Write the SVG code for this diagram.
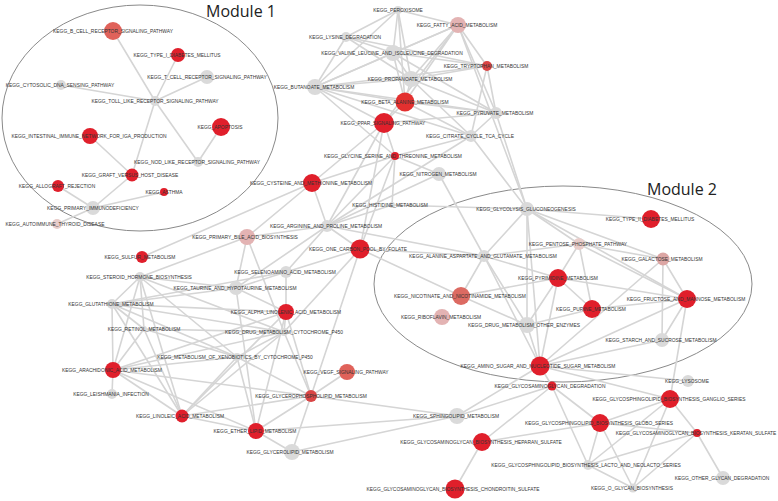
<svg xmlns="http://www.w3.org/2000/svg" width="778" height="501" viewBox="0 0 778 501">
<style>
.e{stroke:#d5d5d5;stroke-width:1.6;fill:none;stroke-linecap:round}
.m{fill:none;stroke:#8a8a8a;stroke-width:1}
.t{font-family:"Open Sans","Liberation Sans",sans-serif;font-size:16px;fill:#222}
.l{font-family:"Liberation Sans",Arial,sans-serif;font-size:4.9px;fill:#333;text-anchor:middle}
.g{fill:#dadada}.r{fill:#e01f2b}.r2{fill:#e3302f}.m1{fill:#e0625a}.m2{fill:#dc6a62}.m3{fill:#d94545}.p1{fill:#e3b3b3}.p2{fill:#e8cdca}.p3{fill:#dca6a4}
</style>
<rect width="778" height="501" fill="#fff"/>
<ellipse class="m" cx="140" cy="118" rx="138" ry="113"/>
<ellipse class="m" cx="563" cy="284" rx="189" ry="98"/>
<text class="t" x="206" y="17">Module 1</text>
<text class="t" x="647" y="195">Module 2</text>
<g id="edges" class="e">
<line x1="113" y1="31" x2="155" y2="101"/><line x1="178" y1="55" x2="155" y2="101"/><line x1="207" y1="77" x2="155" y2="101"/><line x1="61" y1="85" x2="155" y2="101"/><line x1="155" y1="101" x2="198" y2="162"/><line x1="155" y1="101" x2="132" y2="175"/><line x1="221" y1="127" x2="198" y2="162"/><line x1="90" y1="136" x2="132" y2="175"/><line x1="132" y1="175" x2="93" y2="208"/><line x1="58" y1="186" x2="93" y2="208"/><line x1="164" y1="192" x2="93" y2="208"/><line x1="57" y1="224" x2="93" y2="208"/>
<line x1="398" y1="10" x2="346" y2="37"/><line x1="398" y1="10" x2="315" y2="87"/><line x1="398" y1="10" x2="393" y2="53"/><line x1="398" y1="10" x2="411" y2="79"/><line x1="398" y1="10" x2="405" y2="102"/><line x1="398" y1="10" x2="458" y2="25"/>
<line x1="458" y1="25" x2="393" y2="53"/><line x1="458" y1="25" x2="411" y2="79"/><line x1="458" y1="25" x2="405" y2="102"/><line x1="458" y1="25" x2="315" y2="87"/><line x1="458" y1="25" x2="384" y2="123"/><line x1="458" y1="25" x2="496" y2="113"/><line x1="458" y1="25" x2="487" y2="66"/><line x1="458" y1="25" x2="527" y2="209"/>
<line x1="346" y1="37" x2="393" y2="53"/><line x1="346" y1="37" x2="315" y2="87"/><line x1="346" y1="37" x2="411" y2="79"/><line x1="346" y1="37" x2="487" y2="66"/>
<line x1="393" y1="53" x2="315" y2="87"/><line x1="393" y1="53" x2="411" y2="79"/><line x1="393" y1="53" x2="405" y2="102"/><line x1="393" y1="53" x2="487" y2="66"/><line x1="393" y1="53" x2="496" y2="113"/>
<line x1="315" y1="87" x2="411" y2="79"/><line x1="315" y1="87" x2="405" y2="102"/><line x1="315" y1="87" x2="384" y2="123"/><line x1="315" y1="87" x2="487" y2="66"/><line x1="315" y1="87" x2="496" y2="113"/><line x1="315" y1="87" x2="471" y2="136"/><line x1="315" y1="87" x2="395" y2="156"/>
<line x1="411" y1="79" x2="405" y2="102"/><line x1="411" y1="79" x2="496" y2="113"/><line x1="411" y1="79" x2="487" y2="66"/><line x1="411" y1="79" x2="471" y2="136"/>
<line x1="405" y1="102" x2="384" y2="123"/><line x1="405" y1="102" x2="496" y2="113"/><line x1="405" y1="102" x2="471" y2="136"/>
<line x1="487" y1="66" x2="496" y2="113"/><line x1="487" y1="66" x2="471" y2="136"/><line x1="496" y1="113" x2="471" y2="136"/><line x1="496" y1="113" x2="527" y2="209"/><line x1="496" y1="113" x2="384" y2="123"/>
<line x1="471" y1="136" x2="395" y2="156"/><line x1="471" y1="136" x2="327" y2="226"/><line x1="471" y1="136" x2="527" y2="209"/>
<line x1="384" y1="123" x2="312" y2="183"/><line x1="384" y1="123" x2="327" y2="226"/><line x1="384" y1="123" x2="360" y2="249"/><line x1="384" y1="123" x2="395" y2="156"/>
<line x1="395" y1="156" x2="312" y2="183"/><line x1="395" y1="156" x2="439" y2="174"/><line x1="395" y1="156" x2="327" y2="226"/><line x1="395" y1="156" x2="360" y2="249"/><line x1="395" y1="156" x2="392" y2="205"/>
<line x1="439" y1="174" x2="327" y2="226"/><line x1="439" y1="174" x2="484" y2="256"/>
<line x1="312" y1="183" x2="327" y2="226"/><line x1="312" y1="183" x2="247" y2="237"/><line x1="312" y1="183" x2="142" y2="257"/>
<line x1="327" y1="226" x2="392" y2="205"/><line x1="327" y1="226" x2="484" y2="256"/><line x1="327" y1="226" x2="286" y2="272"/><line x1="327" y1="226" x2="247" y2="237"/><line x1="327" y1="226" x2="360" y2="249"/><line x1="327" y1="226" x2="236" y2="288"/>
<line x1="392" y1="205" x2="527" y2="209"/>
<line x1="360" y1="249" x2="484" y2="256"/><line x1="360" y1="249" x2="461" y2="296"/><line x1="360" y1="249" x2="286" y2="272"/><line x1="360" y1="249" x2="311" y2="396"/><line x1="360" y1="249" x2="284" y2="332"/>
<line x1="140" y1="277" x2="247" y2="237"/><line x1="140" y1="277" x2="112" y2="304"/><line x1="140" y1="277" x2="144" y2="329"/><line x1="140" y1="277" x2="113" y2="370"/><line x1="140" y1="277" x2="182" y2="416"/><line x1="140" y1="277" x2="237" y2="357"/><line x1="140" y1="277" x2="284" y2="332"/><line x1="140" y1="277" x2="236" y2="288"/>
<line x1="112" y1="304" x2="286" y2="272"/><line x1="112" y1="304" x2="236" y2="288"/><line x1="112" y1="304" x2="286" y2="312"/><line x1="112" y1="304" x2="237" y2="357"/><line x1="112" y1="304" x2="284" y2="332"/><line x1="112" y1="304" x2="144" y2="329"/><line x1="112" y1="304" x2="113" y2="370"/><line x1="112" y1="304" x2="182" y2="416"/>
<line x1="144" y1="329" x2="284" y2="332"/><line x1="144" y1="329" x2="237" y2="357"/><line x1="144" y1="329" x2="113" y2="370"/><line x1="144" y1="329" x2="182" y2="416"/>
<line x1="236" y1="288" x2="247" y2="237"/><line x1="236" y1="288" x2="286" y2="272"/><line x1="236" y1="288" x2="286" y2="312"/><line x1="236" y1="288" x2="256" y2="431"/>
<line x1="286" y1="272" x2="286" y2="312"/><line x1="247" y1="237" x2="284" y2="332"/>
<line x1="286" y1="312" x2="113" y2="370"/><line x1="286" y1="312" x2="182" y2="416"/><line x1="286" y1="312" x2="311" y2="396"/><line x1="286" y1="312" x2="284" y2="332"/><line x1="286" y1="312" x2="256" y2="431"/>
<line x1="284" y1="332" x2="237" y2="357"/><line x1="284" y1="332" x2="113" y2="370"/><line x1="284" y1="332" x2="182" y2="416"/><line x1="284" y1="332" x2="311" y2="396"/>
<line x1="237" y1="357" x2="113" y2="370"/><line x1="237" y1="357" x2="182" y2="416"/><line x1="237" y1="357" x2="311" y2="396"/><line x1="237" y1="357" x2="256" y2="431"/>
<line x1="113" y1="370" x2="112" y2="394"/><line x1="113" y1="370" x2="182" y2="416"/><line x1="113" y1="370" x2="311" y2="396"/><line x1="113" y1="370" x2="256" y2="431"/>
<line x1="182" y1="416" x2="311" y2="396"/><line x1="182" y1="416" x2="256" y2="431"/>
<line x1="256" y1="431" x2="311" y2="396"/><line x1="256" y1="431" x2="292" y2="452"/><line x1="256" y1="431" x2="457" y2="416"/>
<line x1="311" y1="396" x2="347" y2="372"/><line x1="311" y1="396" x2="292" y2="452"/><line x1="311" y1="396" x2="457" y2="416"/><line x1="292" y1="452" x2="457" y2="416"/>
<line x1="457" y1="416" x2="540" y2="366"/><line x1="457" y1="416" x2="552" y2="386"/>
<line x1="482" y1="442" x2="455" y2="489"/><line x1="482" y1="442" x2="552" y2="386"/><line x1="482" y1="442" x2="600" y2="423"/>
<line x1="484" y1="256" x2="461" y2="296"/><line x1="484" y1="256" x2="527" y2="209"/><line x1="484" y1="256" x2="558" y2="278"/><line x1="484" y1="256" x2="579" y2="244"/><line x1="484" y1="256" x2="527" y2="325"/><line x1="484" y1="256" x2="540" y2="366"/>
<line x1="461" y1="296" x2="527" y2="325"/><line x1="461" y1="296" x2="558" y2="278"/>
<line x1="527" y1="325" x2="558" y2="278"/><line x1="527" y1="325" x2="592" y2="309"/><line x1="527" y1="325" x2="527" y2="209"/><line x1="527" y1="325" x2="540" y2="366"/>
<line x1="527" y1="209" x2="579" y2="244"/><line x1="527" y1="209" x2="651" y2="219"/><line x1="527" y1="209" x2="687" y2="299"/><line x1="527" y1="209" x2="663" y2="259"/><line x1="527" y1="209" x2="540" y2="366"/>
<line x1="579" y1="244" x2="687" y2="299"/><line x1="579" y1="244" x2="558" y2="278"/><line x1="579" y1="244" x2="592" y2="309"/><line x1="579" y1="244" x2="663" y2="259"/>
<line x1="663" y1="259" x2="687" y2="299"/><line x1="663" y1="259" x2="662" y2="340"/><line x1="663" y1="259" x2="540" y2="366"/>
<line x1="558" y1="278" x2="592" y2="309"/><line x1="558" y1="278" x2="687" y2="299"/><line x1="558" y1="278" x2="540" y2="366"/>
<line x1="592" y1="309" x2="687" y2="299"/><line x1="687" y1="299" x2="540" y2="366"/><line x1="687" y1="299" x2="662" y2="340"/><line x1="662" y1="340" x2="540" y2="366"/>
<line x1="540" y1="366" x2="552" y2="386"/><line x1="540" y1="366" x2="688" y2="381"/><line x1="540" y1="366" x2="670" y2="399"/>
<line x1="552" y1="386" x2="588" y2="465"/><line x1="552" y1="386" x2="600" y2="423"/>
<line x1="670" y1="399" x2="600" y2="423"/><line x1="670" y1="399" x2="697" y2="433"/><line x1="670" y1="399" x2="588" y2="465"/><line x1="670" y1="399" x2="633" y2="488"/><line x1="670" y1="399" x2="687" y2="299"/>
<line x1="600" y1="423" x2="697" y2="433"/><line x1="600" y1="423" x2="588" y2="465"/><line x1="600" y1="423" x2="633" y2="488"/>
<line x1="697" y1="433" x2="723" y2="478"/><line x1="697" y1="433" x2="588" y2="465"/><line x1="697" y1="433" x2="633" y2="488"/><line x1="588" y1="465" x2="633" y2="488"/>
</g>
<g id="n_bcell"><circle class="m1" cx="113" cy="31" r="9"/><text class="l" x="113" y="32.7">KEGG_B_CELL_RECEPTOR_SIGNALING_PATHWAY</text></g>
<g id="n_t1d"><circle class="r" cx="178" cy="55" r="7"/><text class="l" x="177" y="56.7">KEGG_TYPE_I_DIABETES_MELLITUS</text></g>
<g id="n_tcell"><circle class="g" cx="207" cy="77" r="7"/><text class="l" x="207" y="78.7">KEGG_T_CELL_RECEPTOR_SIGNALING_PATHWAY</text></g>
<g id="n_cyto"><circle class="g" cx="61" cy="85" r="5"/><text class="l" x="60" y="86.7">KEGG_CYTOSOLIC_DNA_SENSING_PATHWAY</text></g>
<g id="n_toll"><circle class="g" cx="155" cy="101" r="5"/><text class="l" x="155" y="102.7">KEGG_TOLL_LIKE_RECEPTOR_SIGNALING_PATHWAY</text></g>
<g id="n_intest"><circle class="r" cx="90" cy="136" r="8"/><text class="l" x="89" y="137.7">KEGG_INTESTINAL_IMMUNE_NETWORK_FOR_IGA_PRODUCTION</text></g>
<g id="n_apop"><circle class="r" cx="221" cy="127" r="9"/><text class="l" x="220" y="128.7">KEGG_APOPTOSIS</text></g>
<g id="n_nod"><circle class="g" cx="198" cy="162" r="5"/><text class="l" x="197" y="163.7">KEGG_NOD_LIKE_RECEPTOR_SIGNALING_PATHWAY</text></g>
<g id="n_graft"><circle class="r" cx="132" cy="175" r="6.5"/><text class="l" x="130" y="176.7">KEGG_GRAFT_VERSUS_HOST_DISEASE</text></g>
<g id="n_allo"><circle class="r" cx="58" cy="186" r="6"/><text class="l" x="57" y="187.7">KEGG_ALLOGRAFT_REJECTION</text></g>
<g id="n_asthma"><circle class="r" cx="164" cy="192" r="4"/><text class="l" x="164" y="193.7">KEGG_ASTHMA</text></g>
<g id="n_pid"><circle class="g" cx="93" cy="208" r="7"/><text class="l" x="93" y="209.7">KEGG_PRIMARY_IMMUNODEFICIENCY</text></g>
<g id="n_auto"><circle class="p2" cx="57" cy="224" r="5"/><text class="l" x="55" y="225.7">KEGG_AUTOIMMUNE_THYROID_DISEASE</text></g>
<g id="n_perox"><circle class="g" cx="398" cy="10" r="4"/><text class="l" x="398" y="11.7">KEGG_PEROXISOME</text></g>
<g id="n_fatty"><circle class="p1" cx="458" cy="25" r="8"/><text class="l" x="457" y="26.7">KEGG_FATTY_ACID_METABOLISM</text></g>
<g id="n_lys"><circle class="g" cx="346" cy="37" r="5"/><text class="l" x="345" y="38.7">KEGG_LYSINE_DEGRADATION</text></g>
<g id="n_val"><circle class="g" cx="393" cy="53" r="8"/><text class="l" x="392" y="54.7">KEGG_VALINE_LEUCINE_AND_ISOLEUCINE_DEGRADATION</text></g>
<g id="n_trp"><circle class="m3" cx="487" cy="66" r="5"/><text class="l" x="486" y="67.7">KEGG_TRYPTOPHAN_METABOLISM</text></g>
<g id="n_prop"><circle class="g" cx="411" cy="79" r="8"/><text class="l" x="410" y="80.7">KEGG_PROPANOATE_METABOLISM</text></g>
<g id="n_but"><circle class="g" cx="315" cy="87" r="8"/><text class="l" x="314" y="88.7">KEGG_BUTANOATE_METABOLISM</text></g>
<g id="n_beta"><circle class="r2" cx="405" cy="102" r="9.5"/><text class="l" x="405" y="103.7">KEGG_BETA_ALANINE_METABOLISM</text></g>
<g id="n_pyr"><circle class="g" cx="496" cy="113" r="6"/><text class="l" x="495" y="114.7">KEGG_PYRUVATE_METABOLISM</text></g>
<g id="n_ppar"><circle class="r" cx="384" cy="123" r="10"/><text class="l" x="383" y="124.7">KEGG_PPAR_SIGNALING_PATHWAY</text></g>
<g id="n_cit"><circle class="g" cx="471" cy="136" r="6"/><text class="l" x="470" y="137.7">KEGG_CITRATE_CYCLE_TCA_CYCLE</text></g>
<g id="n_gly"><circle class="r" cx="395" cy="156" r="4"/><text class="l" x="393" y="157.7">KEGG_GLYCINE_SERINE_AND_THREONINE_METABOLISM</text></g>
<g id="n_nitro"><circle class="g" cx="439" cy="174" r="7"/><text class="l" x="438" y="175.7">KEGG_NITROGEN_METABOLISM</text></g>
<g id="n_cys"><circle class="r" cx="312" cy="183" r="9"/><text class="l" x="311" y="184.7">KEGG_CYSTEINE_AND_METHIONINE_METABOLISM</text></g>
<g id="n_his"><circle class="g" cx="392" cy="205" r="3"/><text class="l" x="390" y="206.7">KEGG_HISTIDINE_METABOLISM</text></g>
<g id="n_arg"><circle class="g" cx="327" cy="226" r="6"/><text class="l" x="326" y="227.7">KEGG_ARGININE_AND_PROLINE_METABOLISM</text></g>
<g id="n_onec"><circle class="r" cx="360" cy="249" r="9.5"/><text class="l" x="358" y="250.7">KEGG_ONE_CARBON_POOL_BY_FOLATE</text></g>
<g id="n_bile"><circle class="p1" cx="247" cy="237" r="8"/><text class="l" x="245" y="238.7">KEGG_PRIMARY_BILE_ACID_BIOSYNTHESIS</text></g>
<g id="n_sulf"><circle class="r" cx="142" cy="257" r="6"/><text class="l" x="140" y="258.7">KEGG_SULFUR_METABOLISM</text></g>
<g id="n_ster"><circle class="g" cx="140" cy="277" r="5"/><text class="l" x="139" y="278.7">KEGG_STEROID_HORMONE_BIOSYNTHESIS</text></g>
<g id="n_sel"><circle class="g" cx="286" cy="272" r="6"/><text class="l" x="285" y="273.7">KEGG_SELENOAMINO_ACID_METABOLISM</text></g>
<g id="n_taur"><circle class="g" cx="236" cy="288" r="7"/><text class="l" x="235" y="289.7">KEGG_TAURINE_AND_HYPOTAURINE_METABOLISM</text></g>
<g id="n_glut"><circle class="g" cx="112" cy="304" r="5"/><text class="l" x="111" y="305.7">KEGG_GLUTATHIONE_METABOLISM</text></g>
<g id="n_alpha"><circle class="r" cx="286" cy="312" r="8"/><text class="l" x="286" y="313.7">KEGG_ALPHA_LINOLENIC_ACID_METABOLISM</text></g>
<g id="n_ret"><circle class="g" cx="144" cy="329" r="3"/><text class="l" x="144" y="330.7">KEGG_RETINOL_METABOLISM</text></g>
<g id="n_dcyp"><circle class="g" cx="284" cy="332" r="4"/><text class="l" x="284" y="333.7">KEGG_DRUG_METABOLISM_CYTOCHROME_P450</text></g>
<g id="n_xeno"><circle class="g" cx="237" cy="357" r="4"/><text class="l" x="235" y="358.7">KEGG_METABOLISM_OF_XENOBIOTICS_BY_CYTOCHROME_P450</text></g>
<g id="n_arach"><circle class="r" cx="113" cy="370" r="8"/><text class="l" x="112" y="371.7">KEGG_ARACHIDONIC_ACID_METABOLISM</text></g>
<g id="n_leish"><circle class="g" cx="112" cy="394" r="5"/><text class="l" x="111" y="395.7">KEGG_LEISHMANIA_INFECTION</text></g>
<g id="n_lino"><circle class="r" cx="182" cy="416" r="6.5"/><text class="l" x="180" y="417.7">KEGG_LINOLEIC_ACID_METABOLISM</text></g>
<g id="n_ether"><circle class="r" cx="256" cy="431" r="8"/><text class="l" x="255" y="432.7">KEGG_ETHER_LIPID_METABOLISM</text></g>
<g id="n_vegf"><circle class="m1" cx="347" cy="372" r="8"/><text class="l" x="346" y="373.7">KEGG_VEGF_SIGNALING_PATHWAY</text></g>
<g id="n_gpl"><circle class="m3" cx="311" cy="396" r="6"/><text class="l" x="311" y="397.7">KEGG_GLYCEROPHOSPHOLIPID_METABOLISM</text></g>
<g id="n_gl"><circle class="g" cx="292" cy="452" r="8"/><text class="l" x="290" y="453.7">KEGG_GLYCEROLIPID_METABOLISM</text></g>
<g id="n_sph"><circle class="g" cx="457" cy="416" r="8"/><text class="l" x="456" y="417.7">KEGG_SPHINGOLIPID_METABOLISM</text></g>
<g id="n_hep"><circle class="r" cx="482" cy="442" r="9"/><text class="l" x="481" y="443.7">KEGG_GLYCOSAMINOGLYCAN_BIOSYNTHESIS_HEPARAN_SULFATE</text></g>
<g id="n_chon"><circle class="r" cx="455" cy="489" r="9.5"/><text class="l" x="453" y="490.7">KEGG_GLYCOSAMINOGLYCAN_BIOSYNTHESIS_CHONDROITIN_SULFATE</text></g>
<g id="n_glyc"><circle class="g" cx="527" cy="209" r="7"/><text class="l" x="526" y="210.7">KEGG_GLYCOLYSIS_GLUCONEOGENESIS</text></g>
<g id="n_t2d"><circle class="r" cx="651" cy="219" r="9"/><text class="l" x="650" y="220.7">KEGG_TYPE_II_DIABETES_MELLITUS</text></g>
<g id="n_ala"><circle class="g" cx="484" cy="256" r="6"/><text class="l" x="483" y="257.7">KEGG_ALANINE_ASPARTATE_AND_GLUTAMATE_METABOLISM</text></g>
<g id="n_pent"><circle class="p2" cx="579" cy="244" r="6"/><text class="l" x="578" y="245.7">KEGG_PENTOSE_PHOSPHATE_PATHWAY</text></g>
<g id="n_gal"><circle class="p3" cx="663" cy="259" r="6.5"/><text class="l" x="662" y="260.7">KEGG_GALACTOSE_METABOLISM</text></g>
<g id="n_pyrim"><circle class="r" cx="558" cy="278" r="9"/><text class="l" x="558" y="279.7">KEGG_PYRIMIDINE_METABOLISM</text></g>
<g id="n_nicot"><circle class="m2" cx="461" cy="296" r="9"/><text class="l" x="460" y="297.7">KEGG_NICOTINATE_AND_NICOTINAMIDE_METABOLISM</text></g>
<g id="n_fruc"><circle class="r" cx="687" cy="299" r="9"/><text class="l" x="686" y="300.7">KEGG_FRUCTOSE_AND_MANNOSE_METABOLISM</text></g>
<g id="n_pur"><circle class="r" cx="592" cy="309" r="9"/><text class="l" x="591" y="310.7">KEGG_PURINE_METABOLISM</text></g>
<g id="n_ribo"><circle class="p1" cx="442" cy="317" r="8"/><text class="l" x="441" y="318.7">KEGG_RIBOFLAVIN_METABOLISM</text></g>
<g id="n_doth"><circle class="g" cx="527" cy="325" r="8"/><text class="l" x="524" y="326.7">KEGG_DRUG_METABOLISM_OTHER_ENZYMES</text></g>
<g id="n_star"><circle class="g" cx="662" cy="340" r="7"/><text class="l" x="661" y="341.7">KEGG_STARCH_AND_SUCROSE_METABOLISM</text></g>
<g id="n_amino"><circle class="r" cx="540" cy="366" r="9.5"/><text class="l" x="538" y="367.7">KEGG_AMINO_SUGAR_AND_NUCLEOTIDE_SUGAR_METABOLISM</text></g>
<g id="n_gagd"><circle class="r" cx="552" cy="386" r="4.5"/><text class="l" x="550" y="387.7">KEGG_GLYCOSAMINOGLYCAN_DEGRADATION</text></g>
<g id="n_lyso"><circle class="g" cx="688" cy="381" r="6"/><text class="l" x="687" y="382.7">KEGG_LYSOSOME</text></g>
<g id="n_gang"><circle class="r" cx="670" cy="399" r="9"/><text class="l" x="669" y="400.7">KEGG_GLYCOSPHINGOLIPID_BIOSYNTHESIS_GANGLIO_SERIES</text></g>
<g id="n_globo"><circle class="r" cx="600" cy="423" r="9"/><text class="l" x="599" y="424.7">KEGG_GLYCOSPHINGOLIPID_BIOSYNTHESIS_GLOBO_SERIES</text></g>
<g id="n_ker"><circle class="r" cx="697" cy="433" r="4"/><text class="l" x="696" y="434.7">KEGG_GLYCOSAMINOGLYCAN_BIOSYNTHESIS_KERATAN_SULFATE</text></g>
<g id="n_lacto"><circle class="g" cx="588" cy="465" r="5"/><text class="l" x="586" y="466.7">KEGG_GLYCOSPHINGOLIPID_BIOSYNTHESIS_LACTO_AND_NEOLACTO_SERIES</text></g>
<g id="n_other"><circle class="g" cx="723" cy="478" r="7"/><text class="l" x="722" y="479.7">KEGG_OTHER_GLYCAN_DEGRADATION</text></g>
<g id="n_ogly"><circle class="g" cx="633" cy="488" r="4.5"/><text class="l" x="632" y="489.7">KEGG_O_GLYCAN_BIOSYNTHESIS</text></g>
</svg>
